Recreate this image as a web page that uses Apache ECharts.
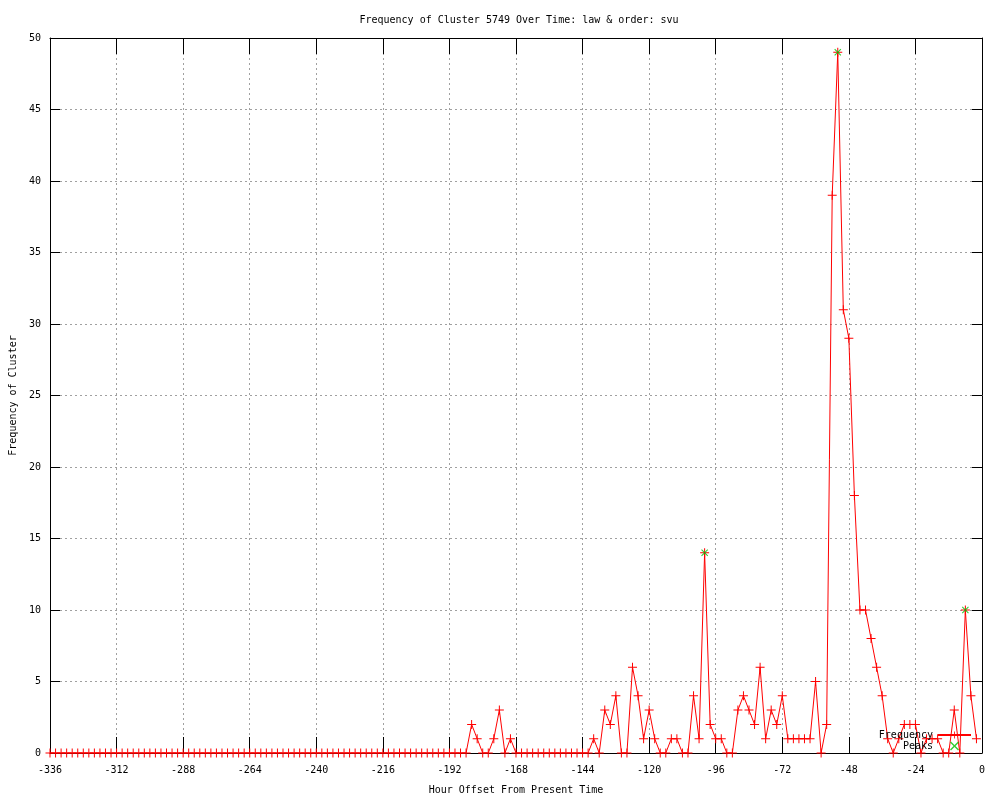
<!DOCTYPE html>
<html>
<head>
<meta charset="utf-8">
<script src="https://cdn.jsdelivr.net/npm/echarts@6/dist/echarts.min.js"></script>
<style>
html,body{margin:0;padding:0;background:#fff;}
#chart{width:1000px;height:800px;}
</style>
</head>
<body>
<div id="chart"></div>
<script>
// Hour offsets (2-hour bins)
var hours = [
  -336,-334,-332,-330,-328,-326,-324,-322,-320,-318,-316,-314,
  -312,-310,-308,-306,-304,-302,-300,-298,-296,-294,-292,-290,
  -288,-286,-284,-282,-280,-278,-276,-274,-272,-270,-268,-266,
  -264,-262,-260,-258,-256,-254,-252,-250,-248,-246,-244,-242,
  -240,-238,-236,-234,-232,-230,-228,-226,-224,-222,-220,-218,
  -216,-214,-212,-210,-208,-206,-204,-202,-200,-198,-196,-194,
  -192,-190,-188,-186,-184,-182,-180,-178,-176,-174,-172,-170,
  -168,-166,-164,-162,-160,-158,-156,-154,-152,-150,-148,-146,
  -144,-142,-140,-138,-136,-134,-132,-130,-128,-126,-124,-122,
  -120,-118,-116,-114,-112,-110,-108,-106,-104,-102,-100,-98,
  -96,-94,-92,-90,-88,-86,-84,-82,-80,-78,-76,-74,
  -72,-70,-68,-66,-64,-62,-60,-58,-56,-54,-52,-50,
  -48,-46,-44,-42,-40,-38,-36,-34,-32,-30,-28,-26,
  -24,-22,-20,-18,-16,-14,-12,-10,-8,-6,-4,-2
];
// Frequency of cluster for each bin
var frequency = [
  0,0,0,0,0,0,0,0,0,0,0,0,
  0,0,0,0,0,0,0,0,0,0,0,0,
  0,0,0,0,0,0,0,0,0,0,0,0,
  0,0,0,0,0,0,0,0,0,0,0,0,
  0,0,0,0,0,0,0,0,0,0,0,0,
  0,0,0,0,0,0,0,0,0,0,0,0,
  0,0,0,0,2,1,0,0,1,3,0,1,
  0,0,0,0,0,0,0,0,0,0,0,0,
  0,0,1,0,3,2,4,0,0,6,4,1,
  3,1,0,0,1,1,0,0,4,1,14,2,
  1,1,0,0,3,4,3,2,6,1,3,2,
  4,1,1,1,1,1,5,0,2,39,49,31,
  29,18,10,10,8,6,4,1,0,1,2,2,
  2,0,1,1,1,0,0,3,0,10,4,1
];
// Peaks
var peakHours = [-100, -52, -6];
var peakValues = [14, 49, 10];

var xTickMin = -336, xTickMax = 0, xTickStep = 24;
var yTickMin = 0, yTickMax = 50, yTickStep = 5;

var freqData = hours.map(function (h, i) { return [h, frequency[i]]; });
var peakData = peakHours.map(function (h, i) { return [h, peakValues[i]]; });

var FONT = 'DejaVu Sans Mono';
var FS = 10;
var PLUS = 'path://M4,0H5V4H9V5H5V9H4V5H0V4H4Z';
var CROSS = 'path://M0,1L1,0L4.5,3.5L8,0L9,1L5.5,4.5L9,8L8,9L4.5,5.5L1,9L0,8L3.5,4.5Z';

var chart = echarts.init(document.getElementById('chart'), null, {renderer: 'canvas'});
var gridDash = {color: '#a0a0a0', width: 1, type: [2, 3]};
chart.setOption({
  animation: false,
  backgroundColor: '#ffffff',
  title: {
    text: 'Frequency of Cluster 5749 Over Time: law & order: svu',
    left: 514, top: 10, textAlign: 'center',
    textStyle: {fontFamily: FONT, fontSize: FS, fontWeight: 'normal', color: '#000'}
  },
  grid: {left: 50, right: 18, top: 38, bottom: 40, containLabel: false},
  legend: {
    orient: 'vertical', right: 23, top: 725, align: 'right',
    itemWidth: 33, itemHeight: 9, itemGap: 1,
    textStyle: {fontFamily: FONT, fontSize: FS, color: '#000'},
    data: ['Frequency', 'Peaks']
  },
  xAxis: [{
    type: 'value', min: xTickMin, max: xTickMax, interval: xTickStep,
    name: 'Hour Offset From Present Time', nameLocation: 'middle', nameGap: 32,
    nameTextStyle: {fontFamily: FONT, fontSize: FS, color: '#000'},
    axisLine: {show: true, onZero: false, lineStyle: {color: '#000', width: 1}},
    axisTick: {show: true, inside: true, length: 16, lineStyle: {color: '#000'}},
    axisLabel: {fontFamily: FONT, fontSize: FS, color: '#000', margin: 12},
    splitLine: {show: true, lineStyle: gridDash}
  }, {
    type: 'value', position: 'top', min: xTickMin, max: xTickMax, interval: xTickStep,
    axisLine: {show: true, onZero: false, lineStyle: {color: '#000', width: 1}},
    axisTick: {show: true, inside: true, length: 16, lineStyle: {color: '#000'}},
    axisLabel: {show: false}, splitLine: {show: false}
  }],
  yAxis: [{
    type: 'value', min: yTickMin, max: yTickMax, interval: yTickStep,
    name: 'Frequency of Cluster', nameLocation: 'middle', nameGap: 29,
    nameTextStyle: {fontFamily: FONT, fontSize: FS, color: '#000'},
    axisLine: {show: true, onZero: false, lineStyle: {color: '#000', width: 1}},
    axisTick: {show: true, inside: true, length: 10, lineStyle: {color: '#000'}},
    axisLabel: {fontFamily: FONT, fontSize: FS, color: '#000', margin: 9},
    splitLine: {show: true, lineStyle: gridDash}
  }, {
    type: 'value', position: 'right', min: yTickMin, max: yTickMax, interval: yTickStep,
    axisLine: {show: true, onZero: false, lineStyle: {color: '#000', width: 1}},
    axisTick: {show: true, inside: true, length: 10, lineStyle: {color: '#000'}},
    axisLabel: {show: false}, splitLine: {show: false}
  }],
  series: [{
    name: 'Frequency', type: 'line', xAxisIndex: 0, yAxisIndex: 0,
    data: freqData, showSymbol: true, showAllSymbol: true,
    symbol: PLUS, symbolSize: 9, symbolKeepAspect: true,
    lineStyle: {color: '#ff0000', width: 1},
    itemStyle: {color: '#ff0000'},
    z: 3
  }, {
    name: 'Peaks', type: 'scatter', xAxisIndex: 0, yAxisIndex: 0,
    data: peakData, symbol: CROSS, symbolSize: 7, symbolKeepAspect: true,
    itemStyle: {color: '#00c000'},
    z: 4
  }]
});
</script>
</body>
</html>
